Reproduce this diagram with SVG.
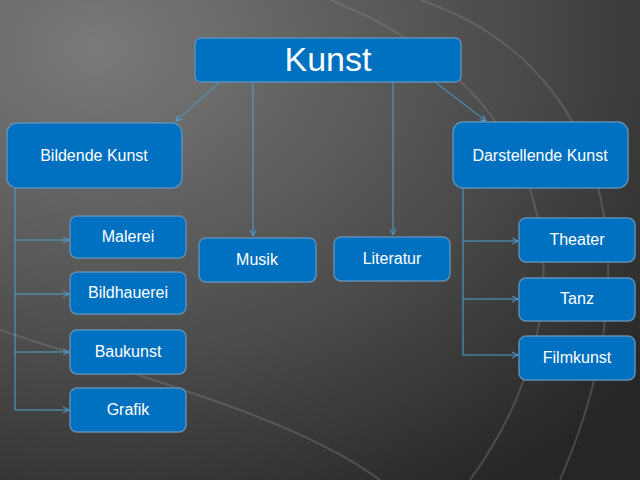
<svg xmlns="http://www.w3.org/2000/svg" width="640" height="480" viewBox="0 0 640 480">
<defs>
<radialGradient id="bg" cx="0.15" cy="0.1" r="1.1">
<stop offset="0" stop-color="#7a7a7a"/>
<stop offset="0.6" stop-color="#4a4a4a"/>
<stop offset="1" stop-color="#262626"/>
</radialGradient>
<marker id="ar" markerWidth="8" markerHeight="8" refX="7" refY="4" orient="auto" markerUnits="userSpaceOnUse">
<path d="M1,1 L7,4 L1,7" fill="none" stroke="#4aa3d6" stroke-width="1"/>
</marker>
<style>
.n rect{fill:#0070c0;stroke:#5d8fb5;stroke-width:1.5}
.n text{fill:#fff;font-family:"Liberation Sans",Arial,sans-serif;font-size:16px;text-anchor:middle;dominant-baseline:middle}
.c path{fill:none;stroke:#4aa3d6;stroke-width:1;marker-end:url(#ar)}
.c line{stroke:#4aa3d6;stroke-width:1}
.arc{fill:none;stroke:#8a8a8a;stroke-opacity:0.35;stroke-width:2}
</style>
</defs>
<rect width="640" height="480" fill="url(#bg)"/>
<path class="arc" d="M420,0 C600,60 660,250 560,480"/>
<path class="arc" d="M330,0 C560,90 600,300 470,480"/>
<path class="arc" d="M0,330 C150,380 300,420 380,480"/>
<g class="c">
<path d="M220,82 L176,121"/>
<path d="M435,82 L486,121"/>
<path d="M253,82 L253,236"/>
<path d="M393,82 L393,235"/>
<line x1="15" y1="188" x2="15" y2="410"/>
<path d="M15,240 L69,240"/>
<path d="M15,294 L69,294"/>
<path d="M15,352 L69,352"/>
<path d="M15,410 L69,410"/>
<line x1="463" y1="188" x2="463" y2="355"/>
<path d="M463,241 L518,241"/>
<path d="M463,299 L518,299"/>
<path d="M463,355 L518,355"/>
</g>
<g id="kunst" class="n"><rect x="195" y="38" width="266" height="44" rx="6"/><text x="328" y="62" style="font-size:34px">Kunst</text></g>
<g id="bildende" class="n"><rect x="7" y="123" width="175" height="65" rx="10"/><text x="94" y="157">Bildende Kunst</text></g>
<g id="darstellende" class="n"><rect x="453" y="122" width="175" height="66" rx="10"/><text x="540" y="157">Darstellende Kunst</text></g>
<g id="malerei" class="n"><rect x="70" y="216" width="116" height="42" rx="7"/><text x="128" y="238">Malerei</text></g>
<g id="musik" class="n"><rect x="199" y="238" width="117" height="44" rx="7"/><text x="257" y="261">Musik</text></g>
<g id="literatur" class="n"><rect x="334" y="237" width="116" height="44" rx="7"/><text x="392" y="260">Literatur</text></g>
<g id="theater" class="n"><rect x="519" y="218" width="116" height="44" rx="7"/><text x="577" y="241">Theater</text></g>
<g id="bildhauerei" class="n"><rect x="70" y="272" width="116" height="42" rx="7"/><text x="128" y="294">Bildhauerei</text></g>
<g id="tanz" class="n"><rect x="519" y="278" width="116" height="43" rx="7"/><text x="577" y="300">Tanz</text></g>
<g id="baukunst" class="n"><rect x="70" y="330" width="116" height="44" rx="7"/><text x="128" y="353">Baukunst</text></g>
<g id="filmkunst" class="n"><rect x="519" y="336" width="116" height="44" rx="7"/><text x="577" y="359">Filmkunst</text></g>
<g id="grafik" class="n"><rect x="70" y="388" width="116" height="44" rx="7"/><text x="128" y="411">Grafik</text></g>
</svg>
